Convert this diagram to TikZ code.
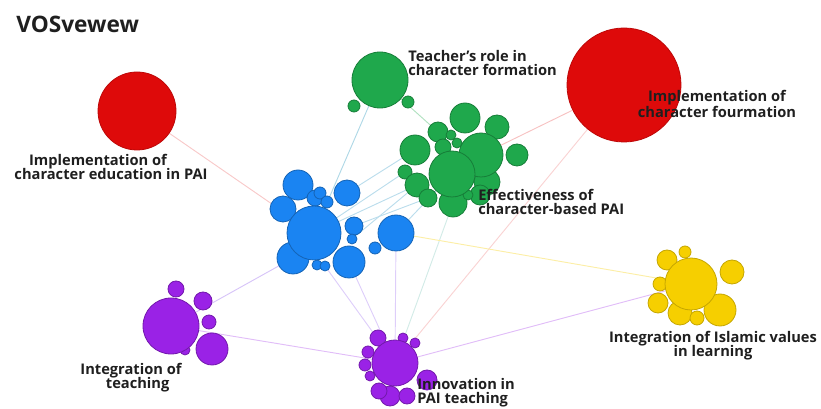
\documentclass[tikz,border=0pt]{standalone}
\usepackage{fontspec}
\setmainfont{Open Sans}
\usetikzlibrary{backgrounds}
\definecolor{cred}{HTML}{DE0A0A}
\definecolor{cgreen}{HTML}{1FA84C}
\definecolor{cblue}{HTML}{1A84F2}
\definecolor{cpurp}{HTML}{9A22E6}
\definecolor{cyell}{HTML}{F6CF00}
\begin{document}
\begin{tikzpicture}[x=0.75pt,y=-0.75pt,
  bub/.style={circle,inner sep=0pt,line width=0.6pt,minimum size=#1*1.5pt},
  rb/.style={bub=#1,fill=cred,draw=cred!85!black},
  gb/.style={bub=#1,fill=cgreen,draw=cgreen!75!black},
  bb/.style={bub=#1,fill=cblue,draw=cblue!75!black},
  pb/.style={bub=#1,fill=cpurp,draw=cpurp!75!black},
  yb/.style={bub=#1,fill=cyell,draw=cyell!80!black},
  lab/.style={font=\bfseries\fontsize{11}{11}\selectfont,text=black!88,inner sep=0pt},
  edge/.style={line width=0.7pt}]
\useasboundingbox (0,0) rectangle (821,409);

% red
\node[rb=39] (r1) at (137,111) {};
\node[rb=57] (r2) at (624,85) {};

% teacher's role
\node[gb=6] (t1) at (354,106) {};
\node[gb=6] (t2) at (408,102) {};
\node[gb=28] (t0) at (380,80) {};

% green cluster
\node[gb=15] (g2) at (465,118) {};
\node[gb=12] (g3) at (497,127) {};
\node[gb=10] (g5) at (438,132) {};
\node[gb=11] (g9) at (517,155) {};
\node[gb=15] (g4) at (415,150) {};
\node[gb=7] (g10) at (405,172) {};
\node[gb=12] (g11) at (417,185) {};
\node[gb=9] (g12) at (428,198) {};
\node[gb=14] (g13) at (453,203) {};
\node[gb=13] (g14) at (487,182) {};
\node[gb=10] (g15) at (480,195) {};
\node[gb=8] (g7) at (443,147) {};
\node[gb=5] (g6) at (451,135) {};
\node[gb=5] (g8) at (457,143) {};
\node[gb=22] (g1) at (481,155) {};
\node[gb=5] (g16) at (468,195) {};
\node[gb=23] (g0) at (452,174) {};

% blue cluster
\node[bb=15] (b1) at (298,185) {};
\node[bb=13] (b2) at (283,209) {};
\node[bb=8] (b3) at (315,198) {};
\node[bb=6] (b4) at (320,193) {};
\node[bb=6] (b5) at (327,202) {};
\node[bb=13] (b6) at (347,193) {};
\node[bb=9] (b7) at (354,226) {};
\node[bb=5] (b8) at (352,239) {};
\node[bb=18] (b9) at (396,233) {};
\node[bb=6] (b10) at (375,248) {};
\node[bb=16] (b11) at (293,258) {};
\node[bb=5] (b13) at (317,265) {};
\node[bb=5] (b14) at (325,266) {};
\node[bb=27] (b0) at (314,233) {};
\node[bb=16] (b12) at (349,262) {};

% purple left
\node[pb=8] (p1) at (176,289) {};
\node[pb=9] (p2) at (203,301) {};
\node[pb=7] (p3) at (209,322) {};
\node[pb=5] (p5) at (185,350) {};
\node[pb=28] (p0) at (171,326) {};
\node[pb=16] (p4) at (212,349) {};

% purple bottom (innovation)
\node[pb=8] (q1) at (378,338) {};
\node[pb=5] (q2) at (403,338) {};
\node[pb=5] (q3) at (415,343) {};
\node[pb=6] (q4) at (368,352) {};
\node[pb=6] (q5) at (365,365) {};
\node[pb=5] (q10) at (370,376) {};
\node[pb=10] (q7) at (390,396) {};
\node[pb=8] (q8) at (407,396) {};
\node[pb=8] (q9) at (379,391) {};
\node[pb=23] (q0) at (395,363) {};
\node[pb=10] (q6) at (427,380) {};

% yellow
\node[yb=10] (y1) at (667,260) {};
\node[yb=6] (y2) at (685,252) {};
\node[yb=12] (y3) at (732,272) {};
\node[yb=7] (y4) at (660,284) {};
\node[yb=10] (y5) at (658,303) {};
\node[yb=12] (y6) at (680,313) {};
\node[yb=7] (y7) at (697,318) {};
\node[yb=16] (y8) at (720,310) {};
\node[yb=26] (y0) at (691,284) {};

% edges
\begin{scope}[on background layer]
\draw[edge,draw=cred!22] (r1) -- (b0);
\draw[edge,draw=cred!25] (r2) -- (g1);
\draw[edge,draw=cred!18] (r2) -- (q0);
\draw[edge,draw=cgreen!35!cblue!35] (t0) -- (b0);
\draw[edge,draw=cgreen!35] (t0) -- (g5);
\draw[edge,draw=cgreen!30!cblue!30] (g4) -- (b6);
\draw[edge,draw=cgreen!30!cblue!30] (g10) -- (b0);
\draw[edge,draw=cgreen!30!cblue!30] (g11) -- (b0);
\draw[edge,draw=cgreen!30!cblue!30] (g12) -- (b7);
\draw[edge,draw=cgreen!30!cblue!30] (g0) -- (b9);
\draw[edge,draw=cgreen!30!cblue!30] (g11) -- (b8);
\draw[edge,draw=cblue!35!cgreen!20] (g13) -- (q0);
\draw[edge,draw=cblue!25!cpurp!25] (b12) -- (q0);
\draw[edge,draw=cblue!25!cpurp!25] (b14) -- (q0);
\draw[edge,draw=cblue!25!cpurp!25] (b9) -- (q0);
\draw[edge,draw=cblue!25!cpurp!30] (b11) -- (p0);
\draw[edge,draw=cpurp!30] (p0) -- (q0);
\draw[edge,draw=cpurp!30] (q0) -- (y0);
\draw[edge,draw=cyell!35] (b9) -- (y0);
\end{scope}

% labels
\node[lab,anchor=base west,font=\bfseries\fontsize{17}{17}\selectfont] (title) at (16,33) {VOSvewew};
\node[lab,anchor=base west,align=left] (lt) at (408,76) {Teacher's role in\\character formation};
\node[lab,anchor=base,align=center] (lr2) at (717,118) {Implementation of\\character fourmation};
\node[lab,anchor=base,align=center] (lr1) at (111,180) {Implementation of\hspace*{19.5pt}\\character education in PAI};
\node[lab,anchor=base west,align=left] (lg) at (478,215) {Effectiveness of\\character-based PAI};
\node[lab,anchor=base,align=center] (ly) at (713,357) {Integration of Islamic values\\in learning};
\node[lab,anchor=base,align=center] (lp) at (131,389) {Integration of\\\hspace*{10pt}teaching};
\node[lab,anchor=base west,align=left] (lq) at (417,404) {Innovation in\\PAI teaching};
\end{tikzpicture}
\end{document}
